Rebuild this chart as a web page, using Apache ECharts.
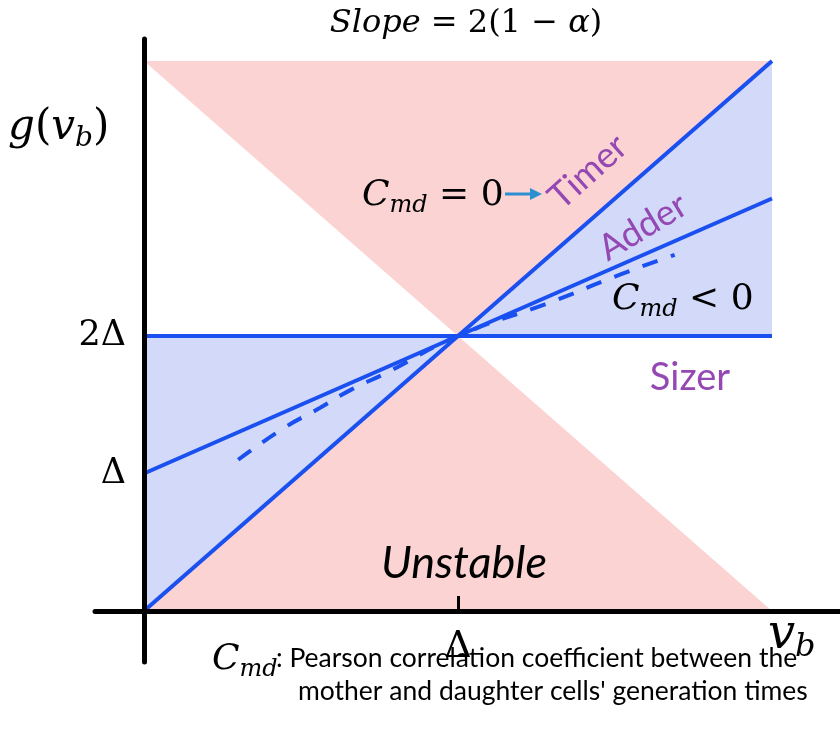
<!DOCTYPE html>
<html>
<head>
<meta charset="utf-8">
<script src="https://cdn.jsdelivr.net/npm/echarts@6/dist/echarts.min.js"></script>
<style>
  html, body { margin: 0; padding: 0; background: #fff; }
  #chart { width: 840px; height: 729px; }
</style>
</head>
<body>
<div id="chart"></div>
<script>
// everything in units of Δ
const xTicks = [1];
const yTicks = [1, 2];
const xTickLabels = { 1: 'Δ' };
const yTickLabels = { 1: 'Δ', 2: '2Δ' };

// regions
const unstableTop = [[0, 4], [2, 4], [1, 2]];
const unstableBottom = [[0, 0], [2, 0], [1, 2]];
const stableLeft = [[0, 0], [0, 2], [1, 2]];
const stableRight = [[1, 2], [2, 2], [2, 4]];

// lines
const timer = [[0, 0], [2, 4]];
const adder = [[0, 1], [2, 3]];
const sizer = [[0, 2], [2, 2]];
const negCorr = [[0.30, 1.10], [0.445, 1.33], [0.555, 1.47], [0.66, 1.61], [0.77, 1.73],
  [1, 2], [1.3, 2.25], [1.52, 2.45], [1.69, 2.59]];

const pink = '#fcd3d3';
const lightBlue = '#d2d9f9';
const blue = '#1a4ff0';
const purple = '#9448b4';
const mathFont = 'DejaVu Serif';

const chart = echarts.init(document.getElementById('chart'));

const polygon = (pts, color) => ({
  type: 'custom',
  silent: true,
  z: 1,
  data: [0],
  renderItem: (params, api) => ({
    type: 'polygon',
    shape: { points: pts.map(p => api.coord(p)) },
    style: { fill: color }
  })
});

const line = (pts, dashed) => ({
  type: 'line',
  data: pts,
  smooth: dashed ? true : false,
  showSymbol: false,
  silent: true,
  z: 3,
  lineStyle: { color: blue, width: 4, type: dashed ? [16, 14] : 'solid' }
});

// math-ish text styles (main size, subscript size)
const mathRich = (big, small) => ({
  i: { fontFamily: mathFont, fontStyle: 'italic', fontSize: big, lineHeight: big + 8, verticalAlign: 'middle', color: '#000' },
  n: { fontFamily: mathFont, fontSize: big, lineHeight: big + 8, verticalAlign: 'middle', color: '#000' },
  s: { fontFamily: mathFont, fontStyle: 'italic', fontSize: small, lineHeight: small, verticalAlign: 'bottom', color: '#000' }
});
const rich = mathRich(36, 24);

const txt = (x, y, text, style, extra) => Object.assign({
  type: 'text', x: x, y: y, silent: true, z: 20,
  style: Object.assign({ text: text, verticalAlign: 'middle', align: 'left', fill: '#000' }, style)
}, extra || {});

var option = {
  animation: false,
  grid: { left: 95, right: 0, top: 39, bottom: 67 },
  xAxis: {
    type: 'value',
    min: -0.156, max: 2.2166,
    offset: -51,
    z: 10,
    splitLine: { show: false },
    axisLine: { onZero: false, lineStyle: { color: '#000', width: 5 } },
    axisTick: { customValues: xTicks, inside: true, length: 15, lineStyle: { color: '#000', width: 3 } },
    axisLabel: {
      customValues: xTicks, margin: 17, fontSize: 38, color: '#000', fontFamily: mathFont,
      formatter: v => xTickLabels[v] || ''
    }
  },
  yAxis: {
    type: 'value',
    min: -0.371, max: 4.16,
    offset: -49,
    z: 10,
    splitLine: { show: false },
    axisLine: { onZero: false, lineStyle: { color: '#000', width: 5 } },
    axisTick: { show: false },
    axisLabel: {
      customValues: yTicks, margin: 18, fontSize: 35, color: '#000', fontFamily: mathFont,
      formatter: v => yTickLabels[v] || ''
    }
  },
  series: [
    polygon(unstableTop, pink),
    polygon(unstableBottom, pink),
    polygon(stableLeft, lightBlue),
    polygon(stableRight, lightBlue),
    line(sizer),
    line(timer),
    line(adder),
    line(negCorr, true)
  ],
  graphic: [
    txt(466, 24, '{i|Slope}{n| = 2(1 − }{i|α}{n|)}', {
      align: 'center',
      rich: {
        i: { fontFamily: mathFont, fontStyle: 'italic', fontSize: 32, color: '#000' },
        n: { fontFamily: mathFont, fontSize: 32, color: '#000' }
      }
    }),
    txt(8, 128, '{i|g}{n|(}{i|v}{s|b}{n|)}', { rich: mathRich(42, 28) }),
    txt(768, 636, '{i|v}{s|b}', { rich: mathRich(48, 32) }),
    txt(362, 196, '{i|C}{s|md}{n| = 0}', { rich: rich }),
    txt(612, 300, '{i|C}{s|md}{n| < 0}', { rich: rich }),
    txt(212, 660, '{i|C}{s|md}', { rich: rich }),
    {
      type: 'line', silent: true, z: 20,
      shape: { x1: 505, y1: 194, x2: 532, y2: 194 },
      style: { stroke: '#2b8fd0', lineWidth: 3 }
    },
    {
      type: 'polygon', silent: true, z: 20,
      shape: { points: [[530, 188], [542, 194], [530, 200]] },
      style: { fill: '#2b8fd0' }
    },
    txt(588, 172, 'Timer', { align: 'center', fontFamily: 'Lato', fontSize: 36, fill: purple }, { rotation: 42 * Math.PI / 180 }),
    txt(643, 227, 'Adder', { align: 'center', fontFamily: 'Lato', fontSize: 36, fill: purple }, { rotation: 31 * Math.PI / 180 }),
    txt(690, 378, 'Sizer', { align: 'center', fontFamily: 'Lato', fontSize: 38, fill: purple }),
    txt(464, 563, 'Unstable', { align: 'center', fontFamily: 'Lato', fontStyle: 'italic', fontSize: 45, fill: '#000' }),
    txt(276, 658, ': Pearson correlation coefficient between the', { fontFamily: 'Lato', fontSize: 26.5, fill: '#000' }),
    txt(298, 691, "mother and daughter cells' generation times", { fontFamily: 'Lato', fontSize: 26.5, fill: '#000' })
  ]
};

chart.setOption(option);
window.addEventListener('resize', () => chart.resize());
</script>
</body>
</html>
